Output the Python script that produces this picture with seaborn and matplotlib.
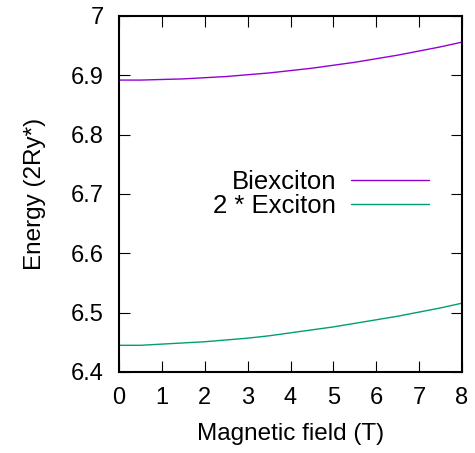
import numpy as np
import pandas as pd
import matplotlib
matplotlib.use("Agg")
import matplotlib.pyplot as plt
import seaborn as sns

# values
field = [0, 0.5, 1, 1.5, 2, 2.5, 3, 3.5, 4, 4.5, 5, 5.5, 6, 6.5, 7, 7.5, 8]
biexciton = [6.892, 6.892, 6.893, 6.894, 6.896, 6.898, 6.901, 6.904, 6.908,
             6.912, 6.917, 6.922, 6.928, 6.934, 6.941, 6.948, 6.956]
exciton2 = [6.445, 6.445, 6.447, 6.449, 6.451, 6.454, 6.457, 6.461, 6.466,
            6.471, 6.476, 6.482, 6.488, 6.494, 6.501, 6.508, 6.516]
labels = ["Biexciton", "2 * Exciton"]
colors = ["#9400d3", "#009e73"]

df = pd.concat([
    pd.DataFrame({"B": field, "E": biexciton, "series": labels[0]}),
    pd.DataFrame({"B": field, "E": exciton2, "series": labels[1]}),
])

sns.set_style("ticks")
plt.rcParams['font.family'] = ['Liberation Sans', 'DejaVu Sans']
plt.rcParams['text.color'] = 'black'
plt.rcParams['axes.labelcolor'] = 'black'
fs = 17.5

fig = plt.figure(figsize=(4.75, 4.53), dpi=100)
ax = fig.add_axes([119 / 475, (453 - 372) / 453, 343 / 475, 356 / 453])

sns.lineplot(data=df, x="B", y="E", hue="series", palette=colors,
             linewidth=1.0, ax=ax)

ax.set_xlim(0, 8)
ax.set_ylim(6.4, 7.0)
ax.set_xticks(range(0, 9))
ax.set_yticks([6.4, 6.5, 6.6, 6.7, 6.8, 6.9, 7.0])
ax.set_yticklabels(["6.4", "6.5", "6.6", "6.7", "6.8", "6.9", "7"])
ax.tick_params(direction="in", length=8, width=0.8, top=True, right=True,
               labelsize=17, pad=11, colors="black")
for s in ax.spines.values():
    s.set_visible(True)
    s.set_linewidth(1.5)
    s.set_color("black")

ax.set_xlabel("Magnetic field (T)", fontsize=fs, labelpad=10, color="black")
ax.set_ylabel("Energy (2Ry*)", fontsize=fs, labelpad=18, color="black")

ax.legend(loc="center right", bbox_to_anchor=(0.94, 0.5), frameon=False,
          markerfirst=False, fontsize=18.5, handlelength=3.0, handletextpad=0.6,
          labelspacing=0.0, borderpad=0)
for t in ax.get_legend().get_texts():
    t.set_ha("right")
    t.set_color("black")

fig.savefig("out.png", dpi=100)
